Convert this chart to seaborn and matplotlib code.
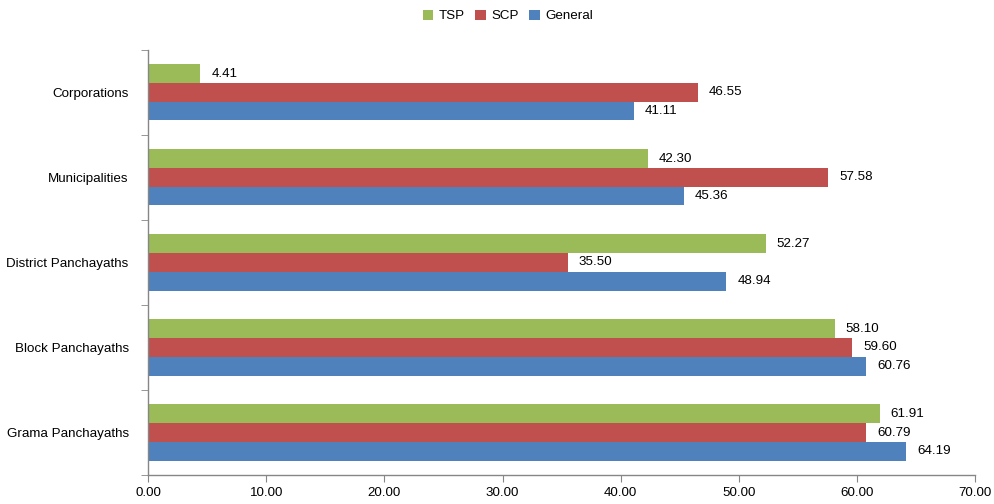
import matplotlib
matplotlib.use("Agg")
import matplotlib.pyplot as plt
import seaborn as sns
import pandas as pd
from matplotlib.ticker import FormatStrFormatter, FixedLocator

# data
categories = ["Corporations", "Municipalities", "District Panchayaths",
              "Block Panchayaths", "Grama Panchayaths"]
tsp = [4.41, 42.30, 52.27, 58.10, 61.91]
scp = [46.55, 57.58, 35.50, 59.60, 60.79]
general = [41.11, 45.36, 48.94, 60.76, 64.19]
series = ["TSP", "SCP", "General"]
colors = ["#9BBB59", "#C0504D", "#4F81BD"]

rows = []
for name, vals in zip(series, [tsp, scp, general]):
    for cat, v in zip(categories, vals):
        rows.append({"category": cat, "series": name, "value": v})
df = pd.DataFrame(rows)

sns.set_style("white")
plt.rcParams["font.family"] = ["Liberation Sans", "DejaVu Sans"]
plt.rcParams["text.color"] = "#000000"
plt.rcParams["xtick.color"] = "#000000"
plt.rcParams["ytick.color"] = "#000000"
fs = 9.6

fig = plt.figure(figsize=(9.94, 5.04), dpi=100)
ax = fig.add_axes([0.149, 0.0575, 0.832, 0.8435])

sns.barplot(data=df, y="category", x="value", hue="series",
            order=categories, hue_order=series, palette=colors,
            width=0.66, orient="h", saturation=1, linewidth=0, ax=ax)

for cont in ax.containers:
    ax.bar_label(cont, fmt="%.2f", padding=8, fontsize=fs, color="#000000")

ax.set_xlim(0, 70)
ax.set_xticks(range(0, 71, 10))
ax.xaxis.set_major_formatter(FormatStrFormatter("%.2f"))
ax.set_xlabel("")
ax.set_ylabel("")

# category labels at centers, tick marks at group boundaries
ax.tick_params(axis="y", which="major", length=0, labelsize=fs, pad=14)
ax.yaxis.set_minor_locator(FixedLocator([i - 0.5 for i in range(len(categories) + 1)]))
ax.tick_params(axis="y", which="minor", length=5, color="#868686", direction="out", left=True)
ax.tick_params(axis="x", length=5, color="#868686", direction="out", bottom=True,
               labelsize=fs, labelcolor="#000000")

for s in ["top", "right"]:
    ax.spines[s].set_visible(False)
for s in ["left", "bottom"]:
    ax.spines[s].set_color("#868686")
    ax.spines[s].set_linewidth(1)

sns.move_legend(ax, "center", bbox_to_anchor=(0.435, 1.08), ncol=3,
                frameon=False, title=None, fontsize=fs,
                handlelength=0.8, handleheight=0.8, handletextpad=0.4,
                columnspacing=0.8)

fig.savefig("out.png", dpi=100)
